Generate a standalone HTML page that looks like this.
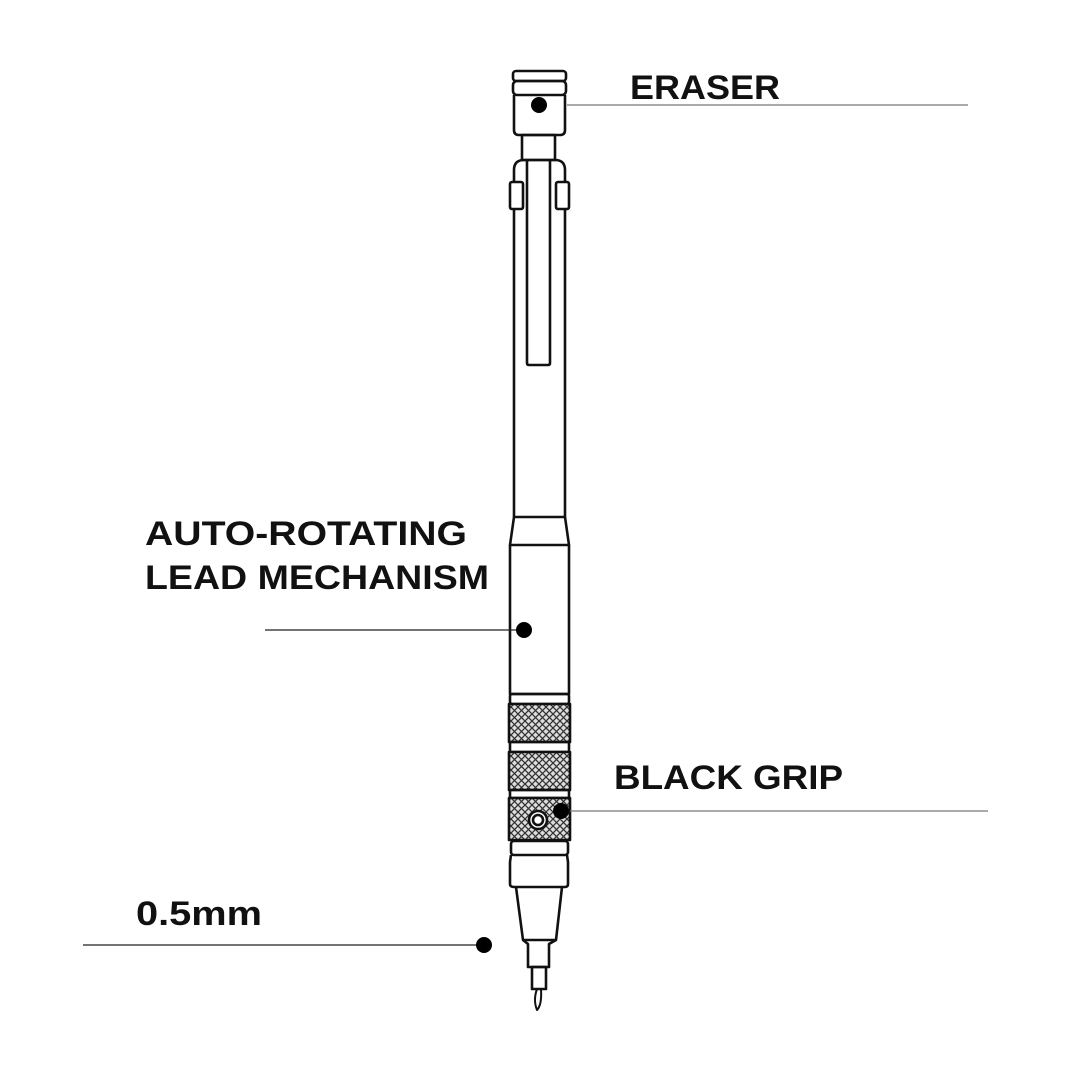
<!DOCTYPE html>
<html><head><style>
html,body{margin:0;padding:0;background:#fff;}
svg{display:block;}
text{font-family:"Liberation Sans",sans-serif;font-weight:bold;fill:#111;}
</style></head><body>
<svg width="1080" height="1080" viewBox="0 0 1080 1080" xmlns="http://www.w3.org/2000/svg">
<defs>
<pattern id="kn" width="7" height="7" patternUnits="userSpaceOnUse">
<rect width="7" height="7" fill="#ddd"/>
<path d="M0,0L7,7M7,0L0,7" stroke="#333" stroke-width="1.3"/>
</pattern>
</defs>
<g fill="none" stroke="#111" stroke-width="2.6" stroke-linejoin="round">
<rect x="513" y="71" width="53" height="10" rx="3"/>
<rect x="513" y="81" width="53" height="14" rx="4"/>
<path d="M514,95 V130 Q514,135 519,135 H560 Q565,135 565,130 V95"/>
<rect x="522" y="135" width="33" height="25"/>
<path d="M514,517 V170 Q514,160 524,160 H555 Q565,160 565,170 V517"/>
<rect x="510" y="182" width="13" height="27" rx="2" fill="#fff"/>
<rect x="556" y="182" width="13" height="27" rx="2" fill="#fff"/>
<path d="M527,160 V363 Q527,365 529,365 H548 Q550,365 550,363 V160"/>
<path d="M514,517 H565 L569,545 H510 Z"/>
<path d="M510,545 V694 H569 V545"/>
<rect x="510" y="694" width="59" height="10" rx="2"/>
<rect x="509" y="704" width="61" height="38" fill="url(#kn)"/>
<rect x="510" y="742" width="59" height="10"/>
<rect x="509" y="752" width="61" height="38" fill="url(#kn)"/>
<rect x="510" y="790" width="59" height="8"/>
<rect x="509" y="798" width="61" height="42" fill="url(#kn)"/>
<circle cx="538" cy="820" r="9" fill="#fff"/>
<circle cx="538" cy="820" r="5"/>
<rect x="511" y="841" width="57" height="14" rx="3"/>
<path d="M511,855 L510,862 V884 Q510,887 514,887 H565 Q568,887 568,884 V862 L567,855"/>
<path d="M516,887 L523,940 H556 L562,887"/>
<path d="M523,940 L528,944 V967 H549 V944 L556,940"/>
<rect x="532" y="967" width="14" height="22"/>
<path d="M537,989 Q533,1000 537,1010 Q542,1005 541,989" stroke-width="2"/>
</g>
<line x1="567" y1="105" x2="968" y2="105" stroke="#777" stroke-width="1.3"/>
<line x1="265" y1="630" x2="524" y2="630" stroke="#222" stroke-width="1.3"/>
<line x1="570" y1="811" x2="988" y2="811" stroke="#777" stroke-width="1.3"/>
<line x1="83" y1="945" x2="484" y2="945" stroke="#222" stroke-width="1.3"/>
<circle cx="539" cy="105" r="8" fill="#000"/>
<circle cx="524" cy="630" r="8" fill="#000"/>
<circle cx="561" cy="811" r="8" fill="#000"/>
<circle cx="484" cy="945" r="8" fill="#000"/>
<text x="630" y="99" font-size="34" textLength="150" lengthAdjust="spacingAndGlyphs">ERASER</text>
<text x="145" y="545" font-size="34" textLength="322" lengthAdjust="spacingAndGlyphs">AUTO-ROTATING</text>
<text x="145" y="589" font-size="34" textLength="344" lengthAdjust="spacingAndGlyphs">LEAD MECHANISM</text>
<text x="614" y="789" font-size="34" textLength="229" lengthAdjust="spacingAndGlyphs">BLACK GRIP</text>
<text x="136" y="925" font-size="34" textLength="126" lengthAdjust="spacingAndGlyphs">0.5mm</text>
</svg>
</body></html>
